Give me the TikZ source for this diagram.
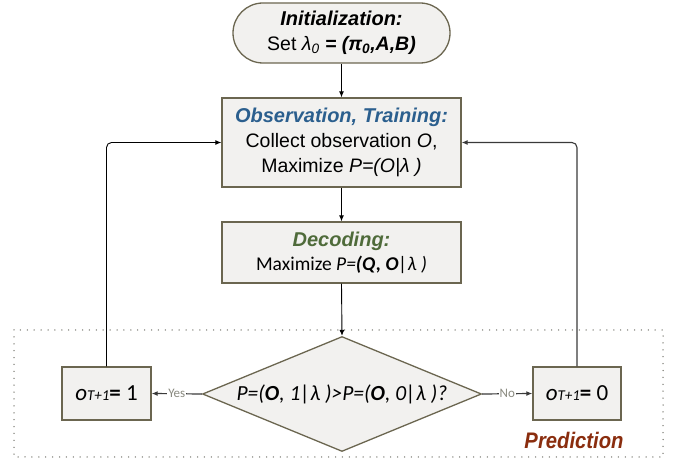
\documentclass[tikz,border=0pt]{standalone}
\usepackage{fontspec}
\setmainfont{Liberation Sans}
\newfontfamily\calib{Carlito}
\newfontfamily\predfont[FakeStretch=0.9]{Liberation Sans}
\usetikzlibrary{arrows.meta,shapes.geometric}

\definecolor{boxfill}{HTML}{F2F1EF}
\definecolor{boxline}{HTML}{6B6650}
\definecolor{obsblue}{HTML}{2B5F8E}
\definecolor{decgreen}{HTML}{4F6B3A}
\definecolor{predred}{HTML}{8A2D0E}
\definecolor{labgray}{HTML}{8A8A80}
\definecolor{dotgray}{HTML}{7A7A72}
\definecolor{lnk}{HTML}{3A3A3A}

\tikzset{
  stagebox/.style={draw=boxline, line width=1.3pt, fill=boxfill, align=center,
    inner sep=0pt, text=black, font=\fontsize{19.5}{25}\selectfont},
  flow/.style={line width=0.9pt, -{Latex[length=6pt,width=5pt]}},
  branch/.style={line width=1.2pt, draw=lnk, -{Latex[length=6pt,width=5pt]}},
  branchlab/.style={fill=white, inner sep=1pt, text=labgray,
    font=\calib\fontsize{13}{13}\selectfont},
}
\newcommand\stagehead[1]{{\bfseries\itshape\fontsize{20}{25}\selectfont #1}}

\begin{document}
\begin{tikzpicture}[x=1pt,y=-1pt]
\useasboundingbox (0,0) rectangle (678,462);

% prediction region
\draw[dotgray, line width=1.5pt, line cap=round, dash pattern=on 0pt off 6.9pt]
  (14,330) rectangle (663,457);

% stages
\node[stagebox, rounded corners=30pt, minimum width=217pt, minimum height=60pt]
  (init) at (341.5,33)
  {\stagehead{Initialization:}\\
   Set {\itshape λ\textsubscript{0}}
   {\bfseries\itshape = (π\textsubscript{0},A,B)}};

\node[stagebox, minimum width=239pt, minimum height=89pt] (obs) at (341.5,142.5)
  {\textcolor{obsblue}{\stagehead{Observation, Training:}}\\
   Collect observation \textit{O},\\
   Maximize \textit{P=(O|λ )}};

\node[stagebox, minimum width=239pt, minimum height=61pt,
      font=\fontsize{19.5}{24}\selectfont] (dec) at (341.5,252.5)
  {\textcolor{decgreen}{\stagehead{Decoding:}}\\
   {\calib Maximize \textit{P=}\textbf{\textit{(Q, O}}\textit{|λ )}}};

\node[stagebox, diamond, minimum width=279pt, minimum height=115pt] (dia) at (342,394) {};
\node[font=\calib\itshape\fontsize{21.5}{24}\selectfont, inner sep=0pt] (diatext) at (dia.center)
  {P=(\textbf{O}, 1|λ )>P=(\textbf{O}, 0|λ )?};

\node[stagebox, minimum width=89pt, minimum height=53pt] (lbox) at (106.5,393.5)
  {\calib\fontsize{23}{24}\selectfont\textit{o}{\itshape\fontsize{15}{16}\selectfont T+1}\textbf{=} 1};
\node[stagebox, minimum width=88pt, minimum height=53pt] (rbox) at (577,393.5)
  {\calib\fontsize{23}{24}\selectfont\textit{o}{\itshape\fontsize{15}{16}\selectfont T+1}\textbf{=} 0};

\node[text=predred, font=\predfont\bfseries\itshape\fontsize{22.5}{24}\selectfont]
  (pred) at (574,440) {Prediction};

% main flow
\draw[flow] (init.south) -- (obs.north);
\draw[flow] (obs.south) -- (dec.north);
\draw[flow] (dec.south) -- (dia.north);

% decision branches
\draw[branch] (dia.west) -- node[branchlab] {Yes} (lbox.east);
\draw[branch] (dia.east) -- node[branchlab] {No} (rbox.west);

% feedback loops
\draw[flow, rounded corners=5pt] (lbox.north) |- (obs.west);
\draw[flow, draw=lnk, line width=1.1pt, rounded corners=5pt] (rbox.north) |- (obs.east);
\end{tikzpicture}
\end{document}
